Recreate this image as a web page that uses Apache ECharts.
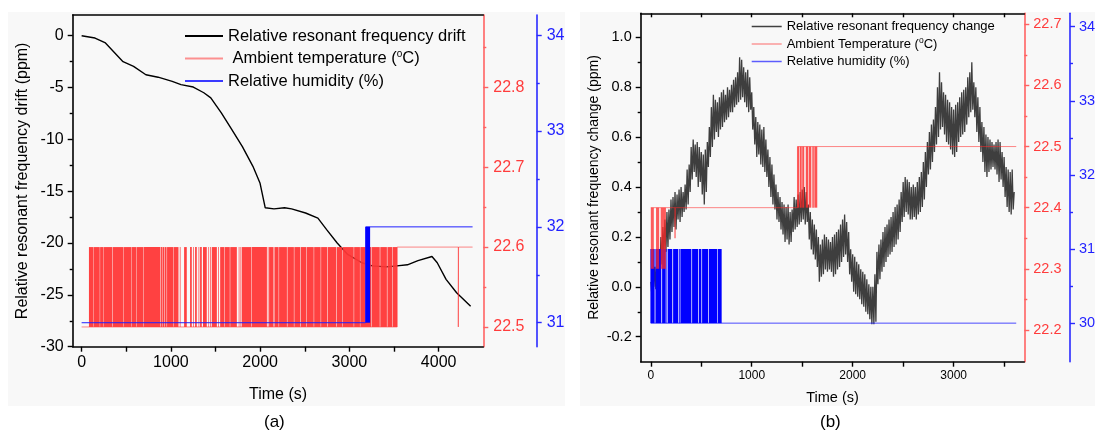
<!DOCTYPE html>
<html><head><meta charset="utf-8">
<script src="https://cdn.jsdelivr.net/npm/echarts@6/dist/echarts.min.js"></script>
<style>html,body{margin:0;padding:0;background:#fff}#c{width:1095px;height:432px}</style>
</head><body><div id="c"></div>
<script>
// ---------- Panel (a) data ----------
const freqA = [[0,0],[150,-0.22],[267,-0.7],[464,-2.5],[582,-2.95],[720,-3.76],[857,-4.0],[1015,-4.4],[1113,-4.72],[1251,-4.95],[1369,-5.5],[1447,-6.0],[1565,-7.45],[1683,-9.06],[1801,-10.7],[1919,-12.6],[1998,-14.2],[2057,-16.6],[2155,-16.7],[2273,-16.6],[2352,-16.7],[2509,-17.1],[2647,-17.6],[2745,-18.7],[2863,-20.0],[2981,-21.1],[3139,-21.9],[3257,-22.2],[3414,-22.3],[3532,-22.2],[3650,-22.1],[3768,-21.7],[3925,-21.3],[3984,-21.9],[4083,-23.5],[4201,-24.8],[4358,-26.1]];
const tempLineA = [[0,22.5],[3535,22.5],[3535,22.6],[4220,22.6],[4220,22.5],[4223,22.5],[4223,22.6],[4380,22.6]];
const tempLevelsA = [22.5, 22.6];
const tempFlickerA = [[82,128],[132,203],[207,240],[244,342],[347,465],[469,559],[563,615],[619,690],[694,878],[884,900],[905,925],[930,952],[957,1026],[1030,1085],
[1100,1105],[1148,1178],[1215,1234],[1250,1255],[1271,1290],[1310,1315],[1327,1346],[1360,1402],[1420,1424],[1440,1444],[1458,1515],[1530,1534],[1552,1600],[1605,1660],[1665,1739],[1760,1764],[1780,1784],[1795,1900],[1905,2076],[2085,2090],[2100,2150],[2160,2207],[2212,2300],[2306,2378],[2383,2450],[2456,2518],[2523,2600],[2605,2678],[2683,2750],[2756,2850],[2856,2918],[2923,3048],[3053,3118],[3122,3245],[3250,3340],[3346,3420],[3426,3480],[3485,3535]];
const rhLineA = [[0,31],[3182,31],[3182,32],[4380,32]];
const rhLevelsA = [31, 32];
const rhFlickerA = [[3182,3232]];

// ---------- Panel (b) data ----------
const freqBStep = 10; // s between samples
const freqB = [
0.02,-0.03,0.06,0.00,0.08,-0.01,0.11,0.02,0.14,0.05,
0.20,0.09,0.24,0.12,0.27,0.14,0.30,0.16,0.31,0.19,
0.35,0.22,0.36,0.24,0.38,0.23,0.37,0.27,0.39,0.26,
0.40,0.28,0.38,0.30,0.41,0.31,0.47,0.33,0.49,0.38,
0.56,0.43,0.59,0.46,0.57,0.44,0.58,0.40,0.56,0.42,
0.54,0.37,0.53,0.33,0.55,0.38,0.58,0.48,0.64,0.52,
0.72,0.56,0.77,0.59,0.75,0.62,0.74,0.60,0.76,0.63,
0.78,0.64,0.79,0.66,0.77,0.67,0.80,0.68,0.79,0.70,
0.81,0.70,0.83,0.72,0.84,0.73,0.86,0.74,0.92,0.75,
0.91,0.76,0.88,0.74,0.86,0.72,0.87,0.70,0.84,0.71,
0.78,0.63,0.72,0.57,0.68,0.52,0.66,0.53,0.65,0.49,
0.63,0.48,0.64,0.46,0.59,0.44,0.55,0.40,0.52,0.36,
0.49,0.33,0.45,0.31,0.41,0.27,0.38,0.26,0.36,0.23,
0.34,0.21,0.33,0.18,0.32,0.19,0.33,0.17,0.30,0.18,
0.31,0.22,0.36,0.23,0.35,0.24,0.37,0.25,0.38,0.26,
0.39,0.27,0.40,0.25,0.38,0.26,0.33,0.19,0.30,0.15,
0.27,0.13,0.25,0.11,0.23,0.08,0.20,0.02,0.17,0.04,
0.19,0.05,0.21,0.07,0.20,0.06,0.19,0.07,0.18,0.06,
0.20,0.04,0.21,0.05,0.22,0.07,0.23,0.08,0.25,0.10,
0.27,0.12,0.29,0.13,0.26,0.10,0.22,0.05,0.15,0.02,
0.13,-0.02,0.12,-0.03,0.10,-0.04,0.09,-0.05,0.07,-0.07,
0.06,-0.08,0.05,-0.10,0.03,-0.11,0.01,-0.13,0.00,-0.15,
0.00,-0.15,0.05,-0.14,0.14,0.01,0.17,0.03,0.19,0.06,
0.22,0.08,0.24,0.10,0.25,0.12,0.27,0.13,0.28,0.14,
0.30,0.16,0.32,0.17,0.33,0.19,0.35,0.22,0.38,0.26,
0.42,0.28,0.44,0.30,0.43,0.29,0.42,0.27,0.40,0.27,
0.41,0.28,0.40,0.27,0.42,0.29,0.44,0.30,0.46,0.32,
0.50,0.35,0.54,0.40,0.58,0.45,0.62,0.47,0.65,0.50,
0.67,0.54,0.72,0.57,0.80,0.60,0.86,0.63,0.82,0.64,
0.78,0.61,0.77,0.58,0.75,0.57,0.74,0.55,0.72,0.53,
0.71,0.52,0.73,0.54,0.74,0.58,0.76,0.60,0.78,0.61,
0.79,0.62,0.80,0.65,0.84,0.68,0.86,0.70,0.90,0.71,
0.82,0.68,0.80,0.62,0.76,0.58,0.72,0.54,0.66,0.50,
0.64,0.46,0.61,0.44,0.60,0.46,0.59,0.47,0.58,0.48,
0.57,0.47,0.58,0.45,0.59,0.42,0.58,0.43,0.54,0.40,
0.52,0.36,0.48,0.32,0.47,0.30,0.46,0.29,0.47,0.31,
0.38];
const tempLineB = [[0,22.4],[240,22.4],[240,22.35],[242,22.35],[242,22.4],[1453,22.4],[1453,22.5],[3620,22.5]];
const tempLevelsB1 = [22.3, 22.4];
const tempFlickerB1 = [[0,30],[52,83],[98,150]];
const tempLevelsB2 = [22.4, 22.5];
const tempFlickerB2 = [[1453,1470],[1476,1495],[1500,1520],[1535,1560],[1566,1590],[1600,1615],[1620,1649]];
const rhLineB = [[0,31],[0,30],[3620,30]];
const rhLevelsB = [30, 31];
const rhFlickerB = [[0,38],[46,104],[112,148],[155,161],[168,213],[221,270],[277,287],[293,402],[409,468],[475,501],[508,567],[574,657],[663,702]];

// ---------- tick labels ----------
const xTicksA = [0,1000,2000,3000,4000];
const xMinorA = [0,500,1000,1500,2000,2500,3000,3500,4000];
const yTicksA = [-30,-25,-20,-15,-10,-5,0];
const yMinorA = [-27.5,-22.5,-17.5,-12.5,-7.5,-2.5];
const tTicksA = [22.5,22.6,22.7,22.8];
const tMinorA = [22.55,22.65,22.75,22.85];
const hTicksA = [31,32,33,34];
const hMinorA = [31.5,32.5,33.5];
const xTicksB = [0,1000,2000,3000];
const xMinorB = [0,500,1000,1500,2000,2500,3000,3500];
const yTicksB = [-0.2,0,0.2,0.4,0.6,0.8,1.0];
const yMinorB = [-0.1,0.1,0.3,0.5,0.7,0.9];
const tTicksB = [22.2,22.3,22.4,22.5,22.6,22.7];
const tMinorB = [22.25,22.35,22.45,22.55,22.65];
const hTicksB = [30,31,32,33,34];
const hMinorB = [30.5,31.5,32.5,33.5];

const FONT = 'Liberation Sans, Arial, sans-serif';
const RED_AX = '#ff6262', RED_TX = '#ff3c3c';
const BLUE_AX = '#2a2aff', BLUE_TX = '#1f1fff';

function blocks(list, levels){ return list.map(([s,e]) => [s, e, levels[0], levels[1]]); }
function blockItem(color){
  return function(params, api){
    const a = api.coord([api.value(0), api.value(3)]);
    const b = api.coord([api.value(1), api.value(2)]);
    return {type:'rect', shape:{x:a[0], y:a[1], width:Math.max(b[0]-a[0], 0.7), height:b[1]-a[1]}, style:{fill:color}};
  };
}
function yAxisMain(o){
  return {
    type:'value', gridIndex:o.grid, position:o.pos, offset:o.offset||0, min:o.min, max:o.max,
    name:o.name||'', nameLocation:'middle', nameGap:o.nameGap||0,
    nameTextStyle:{fontFamily:FONT, fontSize:o.nameSize||16, color:'#000'},
    axisLine:{show:true, onZero:false, lineStyle:{color:o.color, width:1.6}},
    axisTick:{show:true, inside:false, length:5, customValues:o.ticks, lineStyle:{color:o.color, width:1.4}},
    axisLabel:{show:true, customValues:o.ticks, margin:o.margin, fontFamily:FONT, fontSize:o.fontSize, color:o.tcolor, formatter:o.fmt},
    splitLine:{show:false}
  };
}
function yAxisMinor(o, minors){
  return {
    type:'value', gridIndex:o.grid, position:o.pos, offset:o.offset||0, min:o.min, max:o.max,
    axisLine:{show:false, onZero:false}, axisLabel:{show:false}, splitLine:{show:false},
    axisTick:{show:true, inside:false, length:3, customValues:minors, lineStyle:{color:o.color, width:1.4}}
  };
}
const yA  = {grid:0,pos:'left',min:-30,max:2,color:'#000',tcolor:'#000',ticks:yTicksA,fontSize:16,margin:9,name:'Relative resonant frequency drift (ppm)',nameGap:42,nameSize:16,fmt:v=>String(v)};
const tA  = {grid:0,pos:'right',min:22.4753,max:22.8905,color:RED_AX,tcolor:RED_TX,ticks:tTicksA,fontSize:16,margin:10,fmt:v=>v.toFixed(1)};
const hA  = {grid:0,pos:'right',offset:53.4,min:30.75,max:34.21,color:BLUE_AX,tcolor:BLUE_TX,ticks:hTicksA,fontSize:16,margin:10,fmt:v=>String(v)};
const yB  = {grid:1,pos:'left',min:-0.3,max:1.096,color:'#000',tcolor:'#000',ticks:yTicksB,fontSize:14.5,margin:9,name:'Relative resonant frequency change (ppm)',nameGap:40,nameSize:14,fmt:v=>v.toFixed(1)};
const tB  = {grid:1,pos:'right',min:22.148,max:22.718,color:RED_AX,tcolor:RED_TX,ticks:tTicksB,fontSize:14.5,margin:9,fmt:v=>v.toFixed(1)};
const hB  = {grid:1,pos:'right',offset:45.7,min:29.48,max:34.18,color:BLUE_AX,tcolor:BLUE_TX,ticks:hTicksB,fontSize:14.5,margin:9,fmt:v=>String(v)};

function xAxisMain(grid, min, max, ticks, minors, size, gap, nameSize, margin){
  return {
    type:'value', gridIndex:grid, position:'bottom', min:min, max:max,
    name:'Time (s)', nameLocation:'middle', nameGap:gap,
    nameTextStyle:{fontFamily:FONT, fontSize:nameSize, color:'#000'},
    axisLine:{show:true, onZero:false, lineStyle:{color:'#000', width:1.6}},
    axisTick:{show:true, inside:false, length:5, customValues:minors, lineStyle:{color:'#000', width:1.4}},
    axisLabel:{show:true, customValues:ticks, margin:margin, fontFamily:FONT, fontSize:size, color:'#000', formatter:v=>String(v)},
    splitLine:{show:false}
  };
}
function xAxisTop(grid, min, max, ticks){
  return {
    type:'value', gridIndex:grid, position:'top', min:min, max:max,
    axisLine:{show:true, onZero:false, lineStyle:{color:'#000', width:1.6}},
    axisTick:{show:!!ticks, inside:true, length:4, customValues:ticks||[], lineStyle:{color:'#000', width:1.4}},
    axisLabel:{show:false}, splitLine:{show:false}
  };
}

const labelMap = {
  freqA:'Relative resonant frequency drift',
  tempA:' Ambient temperature ({s|o}C)',
  rhA:'Relative humidity (%)',
  freqB:'Relative resonant frequency change',
  tempB:'Ambient Temperature ({s|o}C)',
  rhB:'Relative humidity (%)'
};

const option = {
  animation:false,
  backgroundColor:'#ffffff',
  graphic:[
    {type:'rect', z:-10, shape:{x:8,y:12,width:557,height:394}, style:{fill:'#f8f8f8'}},
    {type:'rect', z:-10, shape:{x:580,y:12,width:515,height:394}, style:{fill:'#f8f8f8'}},
    {type:'text', left:264, top:414, style:{text:'(a)', font:'17px Liberation Sans, Arial, sans-serif', fill:'#000'}},
    {type:'text', left:820, top:414, style:{text:'(b)', font:'17px Liberation Sans, Arial, sans-serif', fill:'#000'}}
  ],
  grid:[
    {left:72.7, top:15, width:410.6, height:331.7, outerBoundsMode:'none', containLabel:false},
    {left:640.7, top:13.3, width:383.6, height:348.4, outerBoundsMode:'none', containLabel:false}
  ],
  legend:[
    {data:[{name:'freqA'},{name:'tempA'},{name:'rhA'}], icon:'rect', padding:0, left:185, top:27, orient:'vertical', itemWidth:38, itemHeight:2, itemGap:4.5, selectedMode:false,
     formatter:n=>labelMap[n],
     textStyle:{fontFamily:FONT, fontSize:16.5, lineHeight:18, color:'#000', rich:{s:{fontFamily:FONT, fontSize:10, lineHeight:10, verticalAlign:'top', color:'#000'}}}},
    {data:[{name:'freqB'},{name:'tempB'},{name:'rhB'}], icon:'rect', padding:0, left:751.7, top:19, orient:'vertical', itemWidth:30, itemHeight:1.5, itemGap:2.5, selectedMode:false,
     formatter:n=>labelMap[n],
     textStyle:{fontFamily:FONT, fontSize:13, lineHeight:15, color:'#000', rich:{s:{fontFamily:FONT, fontSize:8.5, lineHeight:8, verticalAlign:'top', color:'#000'}}}}
  ],
  xAxis:[
    xAxisMain(0,-100,4500,xTicksA,xMinorA,16,40,16,8),
    xAxisTop(0,-100,4500,null),
    xAxisMain(1,-100,3700,xTicksB,xMinorB,12,29,14.5,8),
    xAxisTop(1,-100,3700,xMinorB)
  ],
  yAxis:[
    yAxisMain(yA), yAxisMinor(yA,yMinorA),
    yAxisMain(tA), yAxisMinor(tA,tMinorA),
    yAxisMain(hA), yAxisMinor(hA,hMinorA),
    yAxisMain(yB), yAxisMinor(yB,yMinorB),
    yAxisMain(tB), yAxisMinor(tB,tMinorB),
    yAxisMain(hB), yAxisMinor(hB,hMinorB)
  ],
  series:[
    // panel (a)
    {name:'freqA', type:'line', xAxisIndex:0, yAxisIndex:0, data:freqA, symbol:'none', z:2, lineStyle:{color:'#000', width:1.4}, itemStyle:{color:'#000'}},
    {name:'tempA', type:'line', xAxisIndex:0, yAxisIndex:2, data:tempLineA, symbol:'none', z:3, lineStyle:{color:'rgba(255,40,40,0.55)', width:1}, itemStyle:{color:'rgba(255,40,40,0.5)'}},
    {name:'tempA blocks', type:'custom', xAxisIndex:0, yAxisIndex:2, data:blocks(tempFlickerA,tempLevelsA), z:4, encode:{x:[0,1], y:[2,3]}, renderItem:blockItem('rgba(255,55,55,0.95)')},
    {name:'rhA', type:'line', xAxisIndex:0, yAxisIndex:4, data:rhLineA, symbol:'none', z:5, lineStyle:{color:'#2020ff', width:1}, itemStyle:{color:'#3a3aff'}},
    {name:'rhA blocks', type:'custom', xAxisIndex:0, yAxisIndex:4, data:blocks(rhFlickerA,rhLevelsA), z:6, encode:{x:[0,1], y:[2,3]}, renderItem:blockItem('#0000ff')},
    // panel (b)
    {name:'freqB', type:'line', xAxisIndex:2, yAxisIndex:6, data:freqB.map((v,i)=>[i*freqBStep, v]), symbol:'none', z:2, lineStyle:{color:'#3e3e3e', width:1.3}, itemStyle:{color:'#404040'}},
    {name:'rhB', type:'line', xAxisIndex:2, yAxisIndex:10, data:rhLineB, symbol:'none', z:3, lineStyle:{color:'rgba(30,30,255,0.8)', width:1}, itemStyle:{color:'rgba(40,40,255,0.75)'}},
    {name:'rhB blocks', type:'custom', xAxisIndex:2, yAxisIndex:10, data:blocks(rhFlickerB,rhLevelsB), z:4, encode:{x:[0,1], y:[2,3]}, renderItem:blockItem('#0000ff')},
    {name:'tempB', type:'line', xAxisIndex:2, yAxisIndex:8, data:tempLineB, symbol:'none', z:5, lineStyle:{color:'rgba(255,40,40,0.55)', width:1}, itemStyle:{color:'rgba(255,40,40,0.45)'}},
    {name:'tempB blocks1', type:'custom', xAxisIndex:2, yAxisIndex:8, data:blocks(tempFlickerB1,tempLevelsB1), z:6, encode:{x:[0,1], y:[2,3]}, renderItem:blockItem('rgba(255,40,40,0.75)')},
    {name:'tempB blocks2', type:'custom', xAxisIndex:2, yAxisIndex:8, data:blocks(tempFlickerB2,tempLevelsB2), z:6, encode:{x:[0,1], y:[2,3]}, renderItem:blockItem('rgba(255,40,40,0.8)')}
  ]
};
const chart = echarts.init(document.getElementById('c'), null, {renderer:'canvas'});
chart.setOption(option);
</script>
</body></html>
